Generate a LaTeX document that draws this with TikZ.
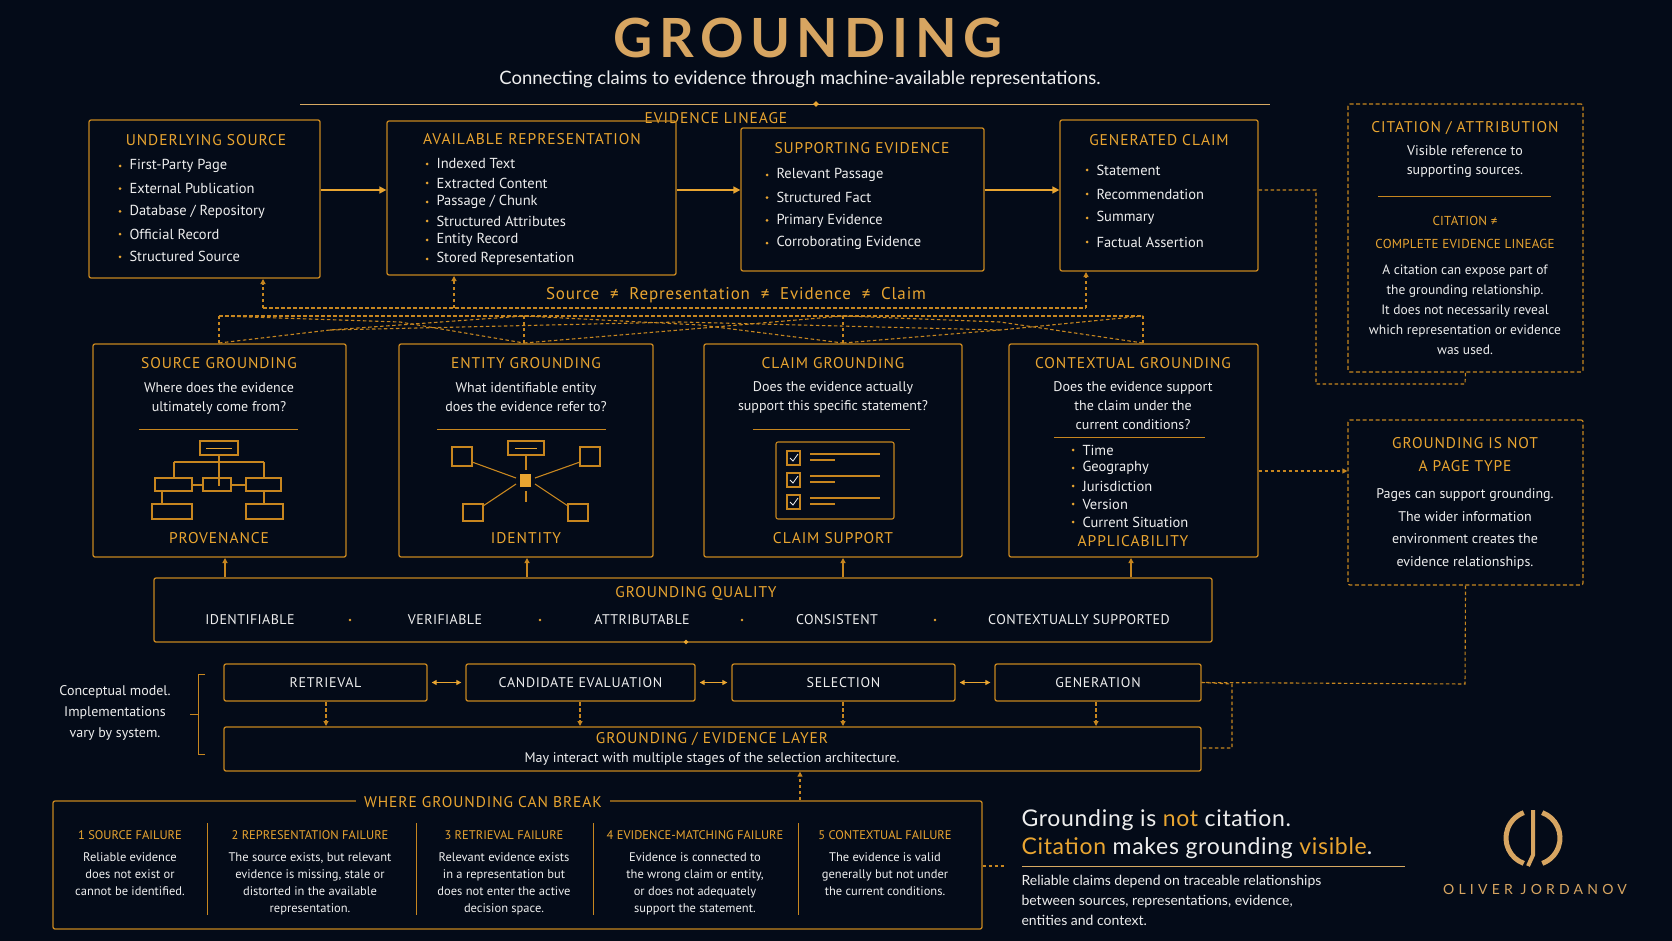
\documentclass[tikz,border=0pt]{standalone}
\usepackage{fontspec}
\setmainfont{PT Sans}
\newfontfamily\lato{Lato}
\newfontfamily\titlef{Lato}
\usetikzlibrary{fit,arrows.meta,shapes.geometric}
\definecolor{bg}{HTML}{040B18}
\definecolor{gold}{HTML}{E9A531}
\definecolor{gline}{HTML}{C7861F}
\definecolor{tgold}{HTML}{D7A561}
\definecolor{wt}{HTML}{EEEEEE}
\newcommand\fz[2]{\fontsize{#1}{#2}\selectfont}
\newcommand\ls[1]{\addfontfeature{LetterSpace=#1}}
\newcommand\bx[6]{\node[#6,fit={(#2,#3)(#4,#5)},inner sep=0pt] (#1) {};}
\tikzset{
 box/.style={draw=gline,line width=1.3pt,rounded corners=2pt},
 dbox/.style={draw=gline,line width=1.2pt,dashed,dash pattern=on 4pt off 2.5pt,rounded corners=2pt},
 ttl/.style={text=gold,font=\fz{15.5}{18}\ls{6}},
 sub/.style={text=gold,font=\fz{13}{15}\ls{2}},
 txt/.style={text=wt,font=\fz{14}{19},align=center},
 item/.style={anchor=west,text=wt,font=\fz{14.5}{16}},
 bul/.style={circle,fill=gold,inner sep=0pt,minimum size=3pt},
 arr/.style={draw=gold,line width=1.6pt,-{Triangle[length=7pt,width=7pt]}},
 darr/.style={draw=gline,line width=1.1pt,dash pattern=on 3.5pt off 2.5pt,-{Triangle[length=5pt,width=5pt]}},
 dl/.style={draw=gline,line width=1.1pt,dash pattern=on 3.5pt off 2.5pt},
 darr2/.style={draw=gold,line width=1.6pt,{Triangle[length=5pt,width=5pt]}-{Triangle[length=5pt,width=5pt]}},
 ic/.style={draw=gline,line width=1.1pt},
 pip/.style={text=wt,font=\fz{14}{16}\ls{5}},
}
\newcommand\items[4]{% x, y0, dy, list
 \foreach \t [count=\i] in {#4}{
  \node[bul] at (#1,{#2+(\i-1)*#3}) {};
  \node[item] at ({#1+6},{#2+(\i-1)*#3}) {\t};}}
\begin{document}
\begin{tikzpicture}[x=1pt,y=-1pt]
\fill[bg] (0,0) rectangle (1672,941);
\useasboundingbox (0,0) rectangle (1672,941);
% title
\node[text=tgold,font=\titlef\bfseries\fz{54}{58}\ls{12}] (title) at (808,38) {GROUNDING};
\node[text=wt,font=\lato\fz{18.5}{22}] (subt) at (800,79) {Connecting claims to evidence through machine-available representations.};
\draw[gline!70,line width=0.9pt] (300,104) -- (1270,104);
\node[diamond,fill=gold,inner sep=0pt,minimum size=6pt] (dm) at (816,104) {};
\node[ttl,fill=bg] (lin) at (716,118) {EVIDENCE LINEAGE};
% lineage boxes
\bx{b1}{89}{120}{320}{278}{box}
\node[ttl] at (206,140) {UNDERLYING SOURCE};
\items{120}{166}{22.7}{First-Party Page,External Publication,Database / Repository,Official Record,Structured Source}
\bx{b2}{387}{121}{676}{275}{box}
\node[ttl] at (532,139) {AVAILABLE REPRESENTATION};
\items{427}{164}{19}{Indexed Text,Extracted Content,Passage / Chunk,Structured Attributes,Entity Record,Stored Representation}
\bx{b3}{741}{128}{984}{271}{box}
\node[ttl] at (862,148) {SUPPORTING EVIDENCE};
\items{767}{175}{22.7}{Relevant Passage,Structured Fact,Primary Evidence,Corroborating Evidence}
\bx{b4}{1060}{120}{1258}{271}{box}
\node[ttl] at (1159,140) {GENERATED CLAIM};
\items{1087}{170}{24}{Statement,Recommendation,Summary,Factual Assertion}
\draw[arr] (b1.east|-0,190) -- (b2.west|-0,190);
\draw[arr] (b2.east|-0,190) -- (b3.west|-0,190);
\draw[arr] (b3.east|-0,190) -- (b4.west|-0,190);
% citation box
\bx{cit}{1348}{104}{1583}{372}{dbox}
\node[ttl] at (1465,128) {CITATION / ATTRIBUTION};
\node[txt] at (1465,162) {Visible reference to\\supporting sources.};
\draw[gline,line width=1pt] (1378,197) -- (1551,197);
\node[sub,align=center,font=\fz{13}{23}\ls{2}] at (1465,232) {CITATION ≠\\COMPLETE EVIDENCE LINEAGE};
\node[txt,font=\fz{13.5}{20}] at (1465,310) {A citation can expose part of\\the grounding relationship.\\It does not necessarily reveal\\which representation or evidence\\was used.};
\draw[dl] (b4.east|-0,190) -- (1316,190) -- (1316,384) -- (1465,384) -- (cit.south);
% source != ...
\node[text=gold,font=\fz{17}{20}\ls{5}] (neq) at (736,295) {Source \ ≠ \ Representation \ ≠ \ Evidence \ ≠ \ Claim};
% grounding boxes
\bx{g1}{93}{344}{346}{557}{box}
\bx{g2}{399}{344}{653}{557}{box}
\bx{g3}{704}{344}{962}{557}{box}
\bx{g4}{1009}{344}{1258}{557}{box}
% dashed mesh
\draw[dl] (263,308) -- (1086,308);
\draw[darr] (263,308) -- (263,279);
\draw[darr] (454,308) -- (454,276);
\draw[darr] (1086,308) -- (1086,272);
\foreach \a in {219,524,843,1143}{
 \draw[dl] (\a,343) -- (\a,316);}
\draw[dl] (219,316) -- (400,322) -- (524,343);
\draw[dl] (219,343) -- (330,330) -- (524,316) -- (700,325) -- (843,343);
\draw[dl] (524,343) -- (680,330) -- (843,316) -- (1000,322) -- (1143,343);
\draw[dl] (843,343) -- (1000,330) -- (1143,316);
\draw[dl] (219,316) -- (1143,316);
\draw[dl] (330,330) -- (680,322) -- (1000,330);
% g1
\node[ttl] at (219,363) {SOURCE GROUNDING};
\node[txt] at (219,398) {Where does the evidence\\ultimately come from?};
\draw[gline,line width=1pt] (139,429) -- (298,429);
\draw[ic] (200,441) rectangle (238,455); \draw[gold] (206,448) -- (232,448);
\draw[ic] (219,455) -- (219,486) (174,462) -- (264,462) (174,462) -- (174,478) (264,462) -- (264,478);
\draw[ic] (155,478) rectangle (192,491) (203,478) rectangle (231,491) (246,478) rectangle (281,491);
\draw[ic] (192,485) -- (203,485) (231,485) -- (246,485) (162,491) -- (162,504) (264,491) -- (264,504);
\draw[ic] (152,504) rectangle (192,519) (246,504) rectangle (283,519);
\node[ttl] at (219,538) {PROVENANCE};
% g2
\node[ttl] at (526,363) {ENTITY GROUNDING};
\node[txt] at (526,397) {What identifiable entity\\does the evidence refer to?};
\draw[gline,line width=1pt] (437,429) -- (606,429);
\fill[gold] (520,474) rectangle (531,487);
\draw[ic] (508,441) rectangle (544,455); \draw[gold] (515,448) -- (537,448);
\draw[ic] (526,455) -- (526,470) (526,491) -- (526,502);
\draw[ic] (452,447) rectangle (472,466) (580,447) rectangle (600,466) (463,504) rectangle (483,521) (568,504) rectangle (588,521);
\draw[ic] (472,462) -- (516,478) (580,462) -- (535,478) (483,506) -- (516,484) (568,506) -- (535,484);
\node[ttl] at (526,538) {IDENTITY};
% g3
\node[ttl] at (833,363) {CLAIM GROUNDING};
\node[txt] at (833,397) {Does the evidence actually\\support this specific statement?};
\draw[gline,line width=1pt] (753,429) -- (910,429);
\draw[ic,rounded corners=2pt] (776,442) rectangle (894,519);
\foreach \yy in {458,480,502}{
 \draw[ic] (787,{\yy-7}) rectangle (800,{\yy+7});
 \draw[wt,line width=0.8pt] (790,\yy) -- (793,{\yy+3}) -- (798,{\yy-4});
 \draw[ic] (810,{\yy-4}) -- (880,{\yy-4}) (810,{\yy+2}) -- (835,{\yy+2});}
\node[ttl] at (833,538) {CLAIM SUPPORT};
% g4
\node[ttl] at (1133,363) {CONTEXTUAL GROUNDING};
\node[txt] at (1133,406) {Does the evidence support\\the claim under the\\current conditions?};
\draw[gline,line width=1pt] (1054,437) -- (1205,437);
\items{1073}{450}{18}{Time,Geography,Jurisdiction,Version,Current Situation}
\node[ttl] at (1133,541) {APPLICABILITY};
% grounding not page type
\bx{gnp}{1348}{420}{1583}{585}{dbox}
\node[ttl,align=center,font=\fz{15.5}{23}\ls{6}] at (1465,455) {GROUNDING IS NOT\\A PAGE TYPE};
\node[txt,font=\fz{14}{22.5}] at (1465,529) {Pages can support grounding.\\The wider information\\environment creates the\\evidence relationships.};
\draw[darr] (g4.east|-0,471) -- (gnp.west|-0,471);
% quality
\bx{q}{154}{578}{1212}{642}{box}
\node[ttl] at (696,593) {GROUNDING QUALITY};
\foreach \xx/\t in {250/IDENTIFIABLE,445/VERIFIABLE,642/ATTRIBUTABLE,837/CONSISTENT,1079/CONTEXTUALLY SUPPORTED}
 \node[pip,font=\fz{14}{16}\ls{3}] at (\xx,620) {\t};
\foreach \xx in {350,540,742,935} \fill[gold] (\xx,620) circle (1.3);
\node[diamond,fill=gold,inner sep=0pt,minimum size=5pt] at (686,642) {};
\foreach \xx in {225,527,843,1131} \draw[darr,solid] (\xx,577) -- (\xx,558);
% pipeline
\bx{p1}{224}{664}{427}{701}{box}
\bx{p2}{466}{664}{695}{701}{box}
\bx{p3}{732}{664}{955}{701}{box}
\bx{p4}{995}{664}{1201}{701}{box}
\node[pip] at (p1) {RETRIEVAL};
\node[pip] at (p2) {CANDIDATE EVALUATION};
\node[pip] at (p3) {SELECTION};
\node[pip] at (p4) {GENERATION};
\draw[darr2] ([xshift=4pt]p1.east) -- ([xshift=-4pt]p2.west);
\draw[darr2] ([xshift=4pt]p2.east) -- ([xshift=-4pt]p3.west);
\draw[darr2] ([xshift=4pt]p3.east) -- ([xshift=-4pt]p4.west);
\bx{lay}{224}{727}{1201}{771}{box}
\node[ttl] at (712,739) {GROUNDING / EVIDENCE LAYER};
\node[txt,font=\fz{14}{16}] at (712,759) {May interact with multiple stages of the selection architecture.};
\foreach \xx in {326,580,843,1096} \draw[darr] (\xx,702) -- (\xx,726);
\draw[dl] (p4.east) -- (1232,684) -- (1232,748) -- (lay.east|-0,748);
\draw[dl] (gnp.south) -- (1465,684) -- (p4.east);
% brace
\draw[gline,line width=1pt] (205,674) -- (198,674) -- (198,754) -- (205,754) (198,714) -- (190,714);
\node[txt,font=\fz{14}{21}] at (115,713) {Conceptual model.\\Implementations\\vary by system.};
% failures
\bx{fb}{53}{801}{982}{929}{box}
\node[ttl,fill=bg,inner xsep=8pt] at (483,802) {WHERE GROUNDING CAN BREAK};
\draw[darr] (800,800) -- (lay.south-|800,0);
\foreach \xx in {207,416,593,798} \draw[gline,line width=1pt] (\xx,823) -- (\xx,915);
\foreach \xx/\t/\b in {
 130/1 SOURCE FAILURE/{Reliable evidence\\does not exist or\\cannot be identified.},
 310/2 REPRESENTATION FAILURE/{The source exists, but relevant\\evidence is missing, stale or\\distorted in the available\\representation.},
 504/3 RETRIEVAL FAILURE/{Relevant evidence exists\\in a representation but\\does not enter the active\\decision space.},
 695/4 EVIDENCE-MATCHING FAILURE/{Evidence is connected to\\the wrong claim or entity,\\or does not adequately\\support the statement.},
 885/5 CONTEXTUAL FAILURE/{The evidence is valid\\generally but not under\\the current conditions.}}{
 \node[text=gold,font=\fz{12.5}{14}] at (\xx,835) {\t};
 \node[txt,font=\fz{12.5}{17},anchor=north] at (\xx,849) {\b};}
\draw[dl] (fb.east|-0,866) -- (1005,866);
% tagline
\node[anchor=west,text=wt,font=\lato\fz{23}{26}\ls{3}] (tg1) at (1018,820) {Grounding is \textcolor{gold}{not} citation.};
\node[anchor=west,text=wt,font=\lato\fz{23}{26}\ls{3}] (tg2) at (1018,848) {\textcolor{gold}{Citation} makes grounding \textcolor{gold}{visible}.};
\draw[gline!70,line width=0.8pt] (1022,866) -- (1405,866);
\node[anchor=north west,text=wt,font=\lato\fz{14}{20},align=left] at (1018,872) {Reliable claims depend on traceable relationships\\between sources, representations, evidence,\\entities and context.};
% logo
\coordinate (lc) at (1533,838);
\draw[tgold,line width=5pt] (lc) ++(-110:27pt) arc[start angle=-110,end angle=-250,radius=27pt];
\draw[tgold,line width=5pt] (lc) ++(70:27pt) arc[start angle=70,end angle=-70,radius=27pt];
\draw[tgold,line width=4pt] (1533,810) -- (1533,855) -- (1528,866);
\node[text=tgold,font=\lato\fz{14}{16}\ls{30}] (logo) at (1535,889) {OLIVER JORDANOV};
\end{tikzpicture}
\end{document}
